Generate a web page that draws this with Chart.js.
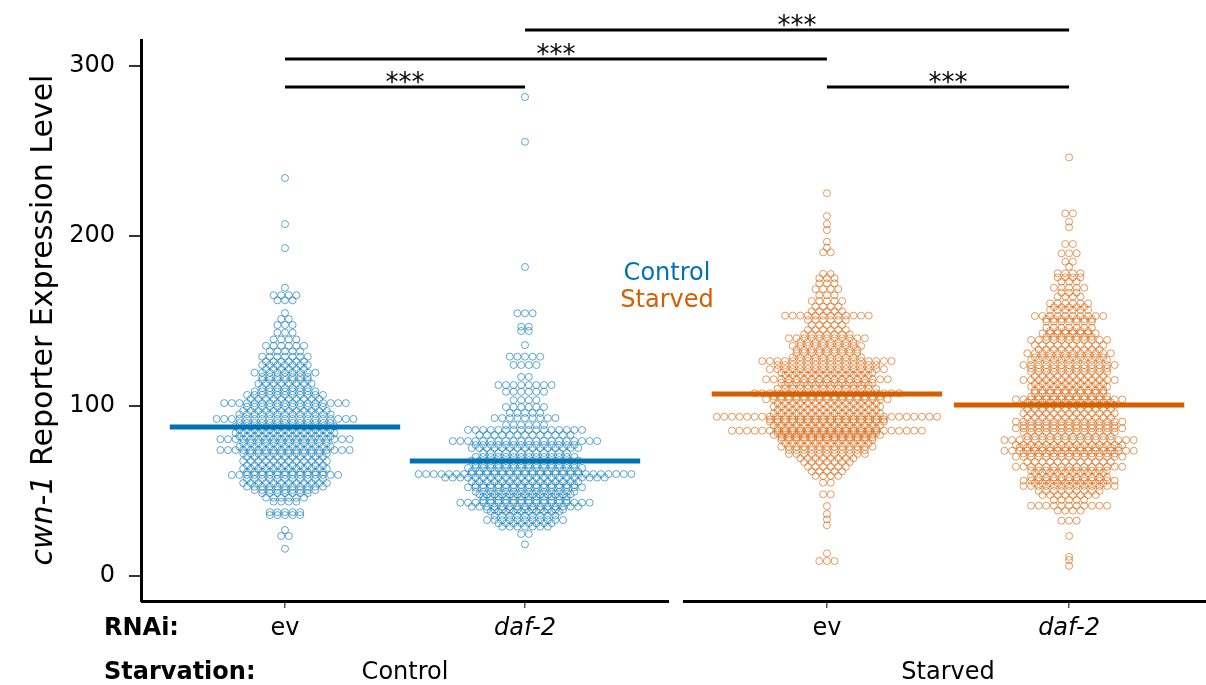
<!DOCTYPE html>
<html>
<head>
<meta charset="utf-8">
<script src="https://cdn.jsdelivr.net/npm/chart.js@4.4.1/dist/chart.umd.min.js"></script>
<style>
html,body{margin:0;padding:0;background:#fff;}
#wrap{width:1206px;height:685px;position:relative;}
</style>
</head>
<body>
<div id="wrap"><canvas id="c"></canvas></div>
<script>
// ---------- DATA ----------
const xTickLabels = ['ev', 'daf-2', 'ev', 'daf-2'];
const xTickItalic = [false, true, false, true];
const groupX = [1, 2, 3.258, 4.267];
const starvationLabels = ['Control', 'Starved'];
const yTicks = [0, 100, 200, 300];
const groupMeans = [87.6, 67.6, 107.0, 100.5];

// beeswarm rows: value level and number of points in the row
const ctrlEvLevels = [233.9,206.8,192.7,169.4,165.0,162.0,154.5,151.0,147.5,143.0,139.0,135.3,132.0,128.9,126.0,124.0,121.5,119.5,117.0,115.2,113.0,110.5,108.5,106.4,104.0,101.6,99.5,97.0,95.0,92.3,90.0,88.0,86.0,84.0,82.0,80.4,78.0,76.0,74.0,72.0,70.0,67.5,65.0,63.0,61.0,59.4,57.0,54.6,52.5,50.5,48.7,46.0,43.7,37.5,35.8,27.0,23.5,16.0];
const ctrlEvCounts = [1,1,1,1,4,3,1,2,3,3,4,6,5,7,6,7,6,9,7,7,8,7,9,11,10,17,11,12,13,19,13,14,13,14,13,18,12,13,18,12,11,12,11,12,11,15,11,12,11,9,7,6,4,5,5,1,2,1];

const ctrlDafLevels = [281.5,255.2,181.6,154.4,146.5,144.0,135.7,128.9,124.0,117.0,112.2,108.3,103.4,99.3,95.8,92.8,88.7,85.8,82.9,79.3,77.0,75.2,72.3,70.0,67.8,65.5,63.5,61.5,59.9,57.8,55.4,53.5,52.1,49.5,48.0,46.6,44.5,43.1,40.7,39.0,37.8,35.5,32.9,31.0,29.0,24.7,18.6];
const ctrlDafCounts = [1,1,1,3,2,2,1,5,4,2,8,6,4,6,5,9,6,16,13,20,14,15,12,14,15,14,16,15,29,22,15,14,16,14,13,12,12,18,15,11,10,9,11,8,7,2,1];

const starvEvLevels = [224.9,211.5,206.8,203.3,196.5,192.9,190.2,177.5,175.0,172.0,168.6,165.0,161.6,158.3,155.5,153.0,150.4,147.5,144.6,142.0,139.7,137.5,135.2,133.0,130.9,128.5,126.3,124.0,121.5,119.5,118.0,115.6,113.5,112.2,110.0,107.4,105.5,103.8,101.5,99.5,97.5,95.5,93.6,92.0,90.7,88.5,86.8,85.4,84.0,82.9,81.5,80.0,78.0,76.0,74.0,71.7,69.2,67.0,64.2,61.5,58.8,54.8,48.0,41.1,36.4,33.3,29.8,13.3,8.8];
const starvEvCounts = [1,1,1,1,1,1,2,2,3,3,4,3,5,4,5,12,6,5,6,7,11,8,10,9,9,10,18,14,16,13,12,17,13,12,14,20,15,17,14,15,14,15,30,16,16,15,14,26,14,15,13,13,12,13,11,11,8,7,6,5,4,2,2,1,1,1,1,1,3];

const starvDafLevels = [246.0,213.1,208.2,204.9,195.1,189.6,184.7,181.8,177.9,175.5,173.0,169.4,166.5,164.1,160.2,158.0,156.3,152.8,151.0,149.5,145.9,144.0,142.6,140.5,138.7,135.7,133.0,130.9,128.5,126.9,124.0,122.0,120.0,117.5,115.2,113.0,111.2,109.0,107.4,105.5,103.8,102.0,100.5,98.0,95.6,93.0,90.7,88.5,86.8,84.5,82.0,79.9,77.0,75.5,73.6,72.0,70.1,67.0,64.2,62.0,60.4,58.0,56.0,54.5,52.9,50.0,47.6,44.7,41.3,38.4,32.5,23.5,11.3,9.4,5.9];
const starvDafCounts = [1,2,1,1,2,3,2,1,4,4,3,5,3,4,6,5,6,10,7,7,7,6,8,7,11,10,9,12,10,11,13,11,11,10,13,10,11,10,10,11,15,12,13,12,13,12,15,13,15,13,12,18,15,14,18,13,15,12,15,11,10,11,13,10,13,9,8,5,11,4,3,1,1,1,1];

// significance comparisons (group indices), bar level, label
const sigFrom = [0, 0, 1, 2];
const sigTo = [1, 2, 3, 3];
const sigY = [287.4, 303.8, 320.9, 287.4];
const sigLabel = ['***', '***', '***', '***'];

// ---------- STYLE ----------
const BLUE = '#0072B2', ORANGE = '#D55E00';
const BLUE_PT = 'rgba(0,114,178,0.62)', ORANGE_PT = 'rgba(213,94,0,0.62)';
const FONT = '"DejaVu Sans", Verdana, sans-serif';
const PX_PER_UNIT = 240;
const DOT_SPACING = 7.6;

function swarm(levels, counts, gi) {
  const pts = [];
  const dx = DOT_SPACING / PX_PER_UNIT;
  levels.forEach((v, k) => {
    const n = counts[k];
    for (let i = 0; i < n; i++) pts.push({x: groupX[gi] + (i - (n - 1) / 2) * dx, y: v});
  });
  return pts;
}
function meanLine(gi) {
  return [{x: groupX[gi] - 0.48, y: groupMeans[gi]}, {x: groupX[gi] + 0.48, y: groupMeans[gi]}];
}

const groupsData = [
  [ctrlEvLevels, ctrlEvCounts, BLUE_PT],
  [ctrlDafLevels, ctrlDafCounts, BLUE_PT],
  [starvEvLevels, starvEvCounts, ORANGE_PT],
  [starvDafLevels, starvDafCounts, ORANGE_PT]
];
const lineColors = [BLUE, BLUE, ORANGE, ORANGE];

const datasets = [];
groupsData.forEach((g, gi) => {
  datasets.push({
    type: 'scatter', data: swarm(g[0], g[1], gi), order: 2,
    pointRadius: 3.5, pointBorderWidth: 1, borderColor: g[2],
    pointBorderColor: g[2], pointBackgroundColor: 'rgba(0,0,0,0)', showLine: false
  });
});
groupMeans.forEach((m, gi) => {
  datasets.push({
    type: 'line', data: meanLine(gi), order: 0, borderColor: lineColors[gi],
    borderWidth: 5, pointRadius: 0, showLine: true, fill: false, borderCapStyle: 'butt'
  });
});

const overlay = {
  id: 'overlay',
  afterDraw(chart) {
    const {ctx, chartArea, scales} = chart;
    const xs = scales.x, ys = scales.y;
    ctx.save();
    // panel baselines
    ctx.strokeStyle = '#000'; ctx.lineWidth = 3; ctx.lineCap = 'butt';
    const by = chartArea.bottom + 0.5;
    const panels = [[groupX[0] - 0.6, groupX[1] + 0.6], [groupX[2] - 0.6, groupX[3] + 0.6]];
    panels.forEach(p => {
      ctx.beginPath();
      ctx.moveTo(Math.max(xs.getPixelForValue(p[0]), chartArea.left - 1.5), by);
      ctx.lineTo(xs.getPixelForValue(p[1]), by);
      ctx.stroke();
    });
    // y title
    ctx.save();
    ctx.translate(44, 320);
    ctx.rotate(-Math.PI / 2);
    ctx.fillStyle = '#000';
    ctx.textBaseline = 'middle';
    const f1 = 'italic 30px ' + FONT, f2 = '30px ' + FONT;
    const t1 = 'cwn-1', t2 = ' Reporter Expression Level';
    ctx.font = f1; const w1 = ctx.measureText(t1).width;
    ctx.font = f2; const w2 = ctx.measureText(t2).width;
    const sx = -(w1 + w2) / 2;
    ctx.textAlign = 'left';
    ctx.font = f1; ctx.fillText(t1, sx, 0);
    ctx.font = f2; ctx.fillText(t2, sx + w1, 0);
    ctx.restore();
    // bottom row labels
    ctx.fillStyle = '#000';
    ctx.textBaseline = 'middle';
    ctx.textAlign = 'left';
    ctx.font = 'bold 24px ' + FONT;
    ctx.fillText('RNAi:', 104, 629);
    ctx.fillText('Starvation:', 104, 673);
    ctx.font = '24px ' + FONT;
    ctx.textAlign = 'center';
    ctx.fillText(starvationLabels[0], xs.getPixelForValue((groupX[0] + groupX[1]) / 2), 673);
    ctx.fillText(starvationLabels[1], xs.getPixelForValue((groupX[2] + groupX[3]) / 2), 673);
    // legend texts
    ctx.font = '24px ' + FONT;
    ctx.fillStyle = BLUE; ctx.fillText(starvationLabels[0], 667, 274);
    ctx.fillStyle = ORANGE; ctx.fillText(starvationLabels[1], 667, 301);
    // significance bars
    ctx.strokeStyle = '#000'; ctx.fillStyle = '#000'; ctx.lineWidth = 3;
    ctx.font = '26px ' + FONT; ctx.textBaseline = 'alphabetic'; ctx.textAlign = 'center';
    sigY.forEach((v, i) => {
      const x1 = xs.getPixelForValue(groupX[sigFrom[i]]);
      const x2 = xs.getPixelForValue(groupX[sigTo[i]]);
      const y = ys.getPixelForValue(v);
      ctx.beginPath(); ctx.moveTo(x1, y); ctx.lineTo(x2, y); ctx.stroke();
      ctx.fillText(sigLabel[i], (x1 + x2) / 2, y + 4);
    });
    ctx.restore();
  }
};

new Chart(document.getElementById('c'), {
  type: 'scatter',
  data: {datasets},
  options: {
    responsive: true, maintainAspectRatio: false, animation: false,
    layout: {autoPadding: false, padding: {top: 40, left: 0, right: 0, bottom: 0}},
    plugins: {legend: {display: false}, tooltip: {enabled: false}},
    scales: {
      x: {
        type: 'linear', min: 0.4, max: 0.4 + (1206 - 141) / PX_PER_UNIT,
        afterFit: s => { s.height = 84; s.paddingLeft = 0; s.paddingRight = 0; },
        afterBuildTicks: s => { s.ticks = groupX.map(v => ({value: v})); },
        border: {display: false},
        grid: {drawOnChartArea: false, drawTicks: true, tickLength: 7, color: '#555', lineWidth: 1.5},
        ticks: {
          autoSkip: false, maxRotation: 0, padding: 6, color: '#000',
          callback: (v, i) => xTickLabels[i],
          font: c => ({family: FONT, size: 24, style: xTickItalic[c.index] ? 'italic' : 'normal'})
        }
      },
      y: {
        type: 'linear', min: -14.7, max: 315,
        afterFit: s => { s.width = 141; },
        afterBuildTicks: s => { s.ticks = yTicks.map(v => ({value: v})); },
        border: {display: true, width: 3, color: '#000'},
        grid: {drawOnChartArea: false, drawTicks: true, tickLength: 12, color: '#333', lineWidth: 2},
        ticks: {padding: 14, color: '#000', font: {family: FONT, size: 24}}
      }
    }
  },
  plugins: [overlay]
});
</script>
</body>
</html>
